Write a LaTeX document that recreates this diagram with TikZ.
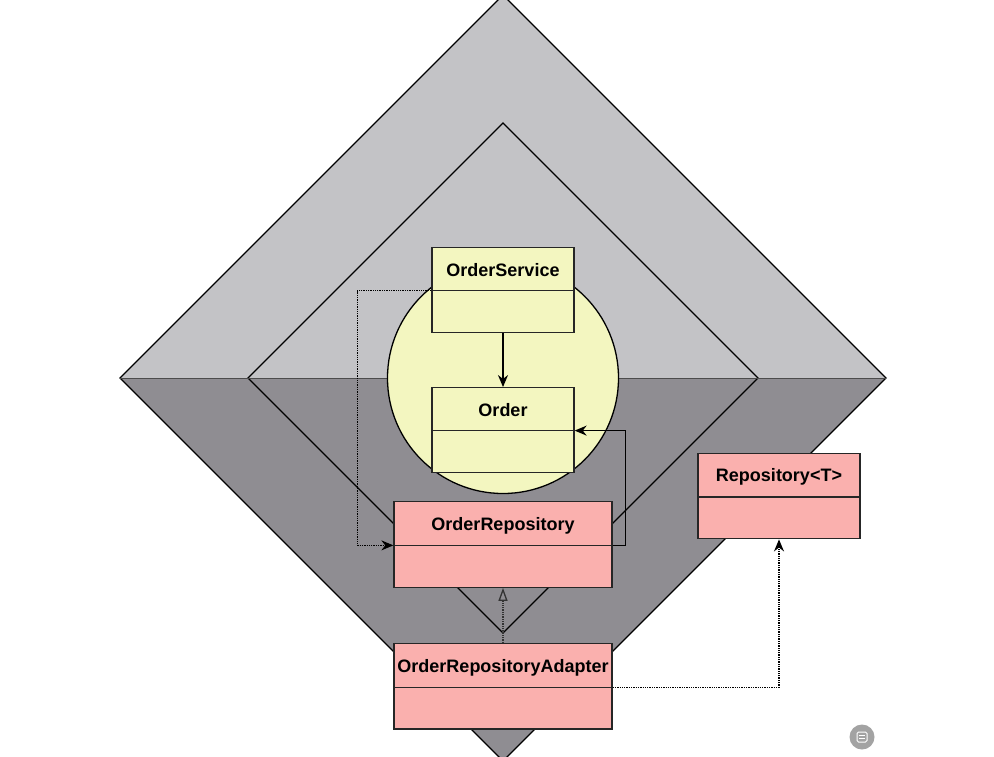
\documentclass[tikz,border=0pt]{standalone}
\usepackage{fontspec}
\setsansfont{Liberation Sans}
\usepackage{tikz}
\usetikzlibrary{arrows.meta,positioning,shapes.multipart}
\definecolor{palegray}{HTML}{C3C3C6}
\definecolor{darkgray}{HTML}{8F8D92}
\definecolor{paleyellow}{HTML}{F3F6C0}
\definecolor{palepink}{HTML}{FAB0AE}
\definecolor{icongray}{HTML}{A3A3A3}
\newcommand{\headstrut}{\rule[-3pt]{0pt}{20pt}}
\begin{document}
\begin{tikzpicture}[
			x=1pt,y=-1pt,
			node distance=54pt,
			classbox/.style={draw=black!85,line width=1.3pt,rectangle split,rectangle split parts=2,rectangle split ignore empty parts=false,rectangle split empty part height=19pt,inner xsep=0pt,inner ysep=10.8pt,align=center,font=\fontsize{18}{20}\selectfont\sffamily\bfseries},
			domainbox/.style={classbox,fill=paleyellow,minimum width=142pt},
			portbox/.style={classbox,fill=palepink,minimum width=218pt},
			arr/.style={-{Stealth[length=12pt,width=10pt]},line width=1.3pt,black},
			dep/.style={arr,densely dotted},
			real/.style={-{Triangle[open,length=13pt,width=9pt]},line width=1.3pt,black!80,densely dotted}
			]
			\useasboundingbox (0,0) rectangle (994,756);
			% layers
			\fill[palegray] (120,378) -- (503,-5) -- (886,378) -- cycle;
			\fill[darkgray] (120,378) -- (503,761) -- (886,378) -- cycle;
			\draw[line width=1.3pt] (120,378) -- (503,-5) -- (886,378) -- (503,761) -- cycle;
			\draw[line width=1.3pt] (248,378) -- (503,123) -- (758,378) -- (503,633) -- cycle;
			\draw[line width=0.8pt,black!70] (120,378) -- (886,378);
			\draw[line width=1.3pt,fill=paleyellow] (503,378) circle (115.5);
			% classes
			\node[domainbox] (service) at (503,290) {\headstrut OrderService\nodepart{two}};
			\node[domainbox] (order) [below=of service] {\headstrut Order\nodepart{two}};
			\node[portbox] (repo) at (503,544.5) {\headstrut OrderRepository\nodepart{two}};
			\node[portbox] (adapter) [below=55pt of repo] {\headstrut OrderRepositoryAdapter\nodepart{two}};
			\node[classbox,fill=palepink,minimum width=162pt] (generic) at (779,496) {\headstrut Repository<T>\nodepart{two}};
			% connectors
			\draw[arr] (service) -- (order);
			\draw[arr] (repo.text split east) -- ++(13,0) |- (order.text split east);
			\draw[dep] (service.text split west) -- ++(-74,0) |- (repo.text split west);
			\draw[real] (adapter) -- (repo);
			\draw[dep] (adapter.text split east) -| (generic);
			% corner badge
			\fill[icongray] (862,737) circle (12.5);
			\draw[white,line width=1pt,rounded corners=1.5pt] (857,732) rectangle (867,742);
			\draw[white,line width=1pt] (859,735.5) -- (865,735.5) (859,738.5) -- (865,738.5);
		\end{tikzpicture}
\end{document}
